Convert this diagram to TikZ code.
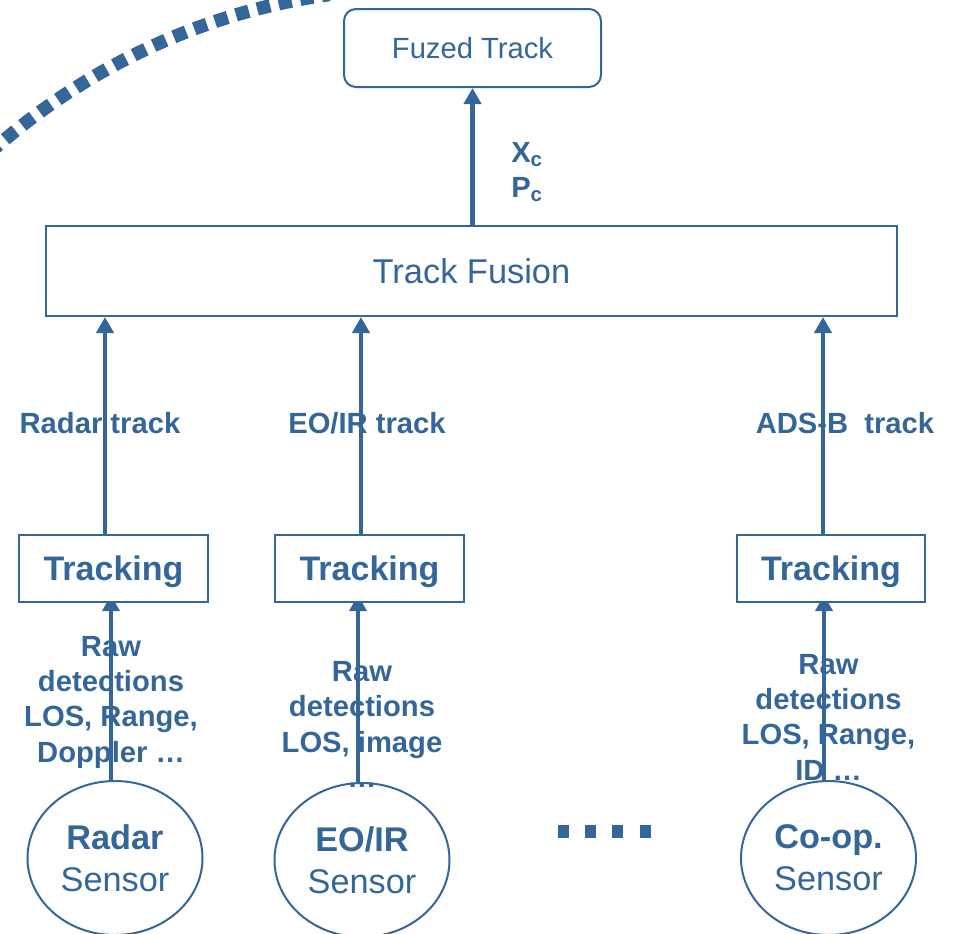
\documentclass[tikz,border=0pt]{standalone}
\usepackage{fontspec}
\setmainfont{Liberation Sans}
\usetikzlibrary{arrows.meta,shapes.geometric,calc}
\definecolor{navy}{RGB}{52,102,153}
\pgfdeclarelayer{background}
\pgfsetlayers{background,main}
\begin{document}
\begin{tikzpicture}[x=0.75pt,y=-0.75pt,
  box/.style={draw=navy, line width=1.5pt, fill=white, inner sep=0pt, text=navy},
  sensor/.style={box, fill=none, ellipse, minimum width=175*0.75pt, minimum height=154*0.75pt,
    align=center, font=\fontsize{25.7}{31.5}\selectfont},
  trackbox/.style={box, minimum width=189*0.75pt, minimum height=67*0.75pt,
    text depth=0pt, font=\bfseries\fontsize{25.5}{30}\selectfont},
  lbl/.style={text=navy, inner sep=0pt, align=center,
    font=\bfseries\fontsize{21.9}{26.5}\selectfont},
  feed/.style={draw=navy, line width=3pt, -{Triangle[width=12.75pt,length=12pt]}},
  raw/.style={draw=navy, line width=2.7pt, -{Triangle[width=12.75pt,length=12pt]}}
]
\useasboundingbox (0,0) rectangle (953,933);

% dotted boundary arc in the upper left corner
\begin{scope}
  \clip (0,0) rectangle (953,933);
  \draw[navy, line width=10pt, dash pattern=on 10pt off 6.5pt]
    (419,631) ++(226:642.7) arc[start angle=226, end angle=262, radius=642.7];
\end{scope}

% boxes
\node[box, rounded corners=9pt, minimum width=257*0.75pt, minimum height=78*0.75pt,
  font=\fontsize{21.9}{26}\selectfont] (fuzed) at (472.5,48) {Fuzed Track};
\node[box, minimum width=851*0.75pt, minimum height=90*0.75pt,
  font=\fontsize{25.8}{30}\selectfont] (fusion) at (471.5,271) {\raisebox{-1pt}{Track Fusion}};

\node[trackbox] (trk1) at (113.5,568.5) {Tracking};
\node[trackbox] (trk2) at (369.5,568.5) {Tracking};
\node[trackbox, minimum width=188*0.75pt] (trk3) at (831,568.5) {Tracking};

% sensors
\node[sensor] (sen1) at (115,858) {\textbf{Radar}\\Sensor};
\node[sensor] (sen2) at (362,860) {\textbf{EO/IR}\\Sensor};
\node[sensor] (sen3) at (828.5,858) {\textbf{Co-op.}\\Sensor};

% separator between sensors
\foreach \cx in {563,590.5,617.5,645.5}
  \fill[navy] (\cx-5.5,825) rectangle (\cx+5.5,838);

\begin{pgfonlayer}{background}
  % labels
  \node[lbl, anchor=west] (xp) at (511,172)
    {X\textsubscript{c}\\P\textsubscript{c}};
  \node[lbl] (l1) at (100,423) {Radar track};
  \node[lbl] (l2) at (367,423) {EO/IR track};
  \node[lbl] (l3) at (845,423) {ADS-B\ \ track};
  \node[lbl] (r1) at (111,702) {Raw\\detections\\LOS, Range,\\Doppler …};
  \node[lbl] (r2) at (362,724.5) {Raw\\detections\\LOS, image\\…};
  \node[lbl] (r3) at (828.5,717) {Raw\\detections\\LOS, Range,\\ID …};

  % fused output
  \draw[feed, line width=3.2pt] (fuzed.south |- fusion.north) -- (fuzed.south);

  % tracks into fusion
  \draw[feed] (trk1.north -| 105,0) -- (fusion.south -| 105,0);
  \draw[feed] (trk2.north -| 361,0) -- (fusion.south -| 361,0);
  \draw[feed] (trk3.north -| 823,0) -- (fusion.south -| 823,0);

  % detections into tracking
  \draw[raw] (sen1.north -| 111,0) -- ($(trk1.south -| 111,0)+(0,-8)$);
  \draw[raw] (sen2.north -| 358,0) -- ($(trk2.south -| 358,0)+(0,-8)$);
  \draw[raw] (sen3.north -| 824,0) -- ($(trk3.south -| 824,0)+(0,-8)$);
\end{pgfonlayer}
\end{tikzpicture}
\end{document}
